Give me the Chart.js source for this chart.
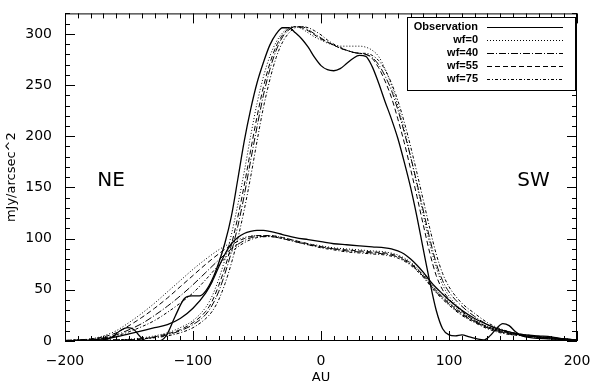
<!DOCTYPE html>
<html>
<head>
<meta charset="utf-8">
<script src="https://cdn.jsdelivr.net/npm/chart.js@4.4.0/dist/chart.umd.min.js"></script>
<style>
  body { margin: 0; background: #fff; }
</style>
</head>
<body>
<canvas id="profile" width="600" height="385"></canvas>
<script>
// tick labels
const xTicks = [-200, -100, 0, 100, 200];
const yTicks = [0, 50, 100, 150, 200, 250, 300];

const legendNames = ["Observation", "wf=0", "wf=40", "wf=55", "wf=75"];

// bright (tall) profile, [AU, mJy/arcsec^2]
const obsTall = [[-200,0],[-180,0],[-170,1],[-163,4],[-157,10],[-151,13],[-146,11],[-141,4],[-136,0],[-127,0],
  [-121,5],[-114,24],[-107,41],[-101,44],[-95,44],[-90,49],[-85,60],[-80,76],[-75,96],[-70,122],[-65,158],
  [-60,195],[-55,226],[-50,252],[-45,272],[-40,289],[-35,300],[-30,306],[-25,306],[-20,301],[-15,295],
  [-10,287],[-5,277],[0,269],[5,265],[10,264],[15,266],[20,271],[25,276],[30,279],[35,278],[40,268],
  [45,252],[50,234],[55,217],[60,198],[65,175],[70,150],[75,121],[80,89],[85,58],[90,30],[95,12],[100,6],
  [105,5],[110,6],[116,4],[122,2],[127,1],[132,5],[137,12],[142,17],[147,15],[152,9],[157,5],[165,3],
  [180,2],[200,0]];
const wf0Tall = [[-200,0],[-180,0.5],[-160,1],[-140,3],[-120,8],[-110,13],[-100,20],[-90,33],[-85,44],[-80,60],
  [-75,80],[-70,104],[-65,133],[-60,165],[-55,200],[-50,232],[-45,258],[-40,278],[-35,292],[-30,301],
  [-25,306],[-20,307],[-15,305],[-10,301],[-5,297],[0,294],[5,291],[10,289],[15,288],[20,288],[25,288],
  [30,288],[35,287],[40,284],[45,278],[50,266],[55,250],[60,230],[65,207],[70,180],[75,152],[80,123],
  [85,95],[90,72],[95,55],[100,44],[110,30],[120,21],[130,14],[140,10],[150,7],[160,5],[180,2],[200,1]];
const wf40Tall = [[-200,0],[-180,0.5],[-160,1],[-140,2],[-120,6],[-110,10],[-100,16],[-90,26],[-85,35],[-80,48],
  [-75,66],[-70,87],[-65,112],[-60,142],[-55,176],[-50,209],[-45,240],[-40,265],[-35,284],[-30,297],
  [-25,304],[-20,307],[-15,307],[-10,304],[-5,300],[0,296],[5,292],[10,289],[15,286],[20,284],[25,282],
  [30,281],[35,280],[40,277],[45,270],[50,259],[55,245],[60,226],[65,204],[70,180],[75,154],[80,127],
  [85,100],[90,76],[95,59],[100,48],[110,34],[120,24],[130,16],[140,11],[150,8],[160,5],[180,3],[200,1]];
const wf55Tall = [[-200,0],[-180,0.5],[-160,1],[-140,2],[-120,7],[-110,11],[-100,18],[-90,29],[-85,39],[-80,54],
  [-75,72],[-70,94],[-65,121],[-60,152],[-55,186],[-50,219],[-45,248],[-40,271],[-35,288],[-30,299],
  [-25,305],[-20,307],[-15,306],[-10,303],[-5,299],[0,295],[5,292],[10,289],[15,286],[20,284],[25,282],
  [30,281],[35,280],[40,276],[45,267],[50,254],[55,238],[60,217],[65,194],[70,168],[75,141],[80,113],
  [85,86],[90,64],[95,50],[100,41],[110,29],[120,20],[130,14],[140,10],[150,7],[160,5],[180,2],[200,1]];
const wf75Tall = [[-200,0],[-180,0.5],[-160,1],[-140,2],[-120,5],[-110,8],[-100,13],[-90,22],[-85,29],[-80,40],
  [-75,56],[-70,76],[-65,100],[-60,128],[-55,160],[-50,195],[-45,228],[-40,255],[-35,277],[-30,292],
  [-25,301],[-20,306],[-15,307],[-10,306],[-5,303],[0,299],[5,294],[10,290],[15,287],[20,284],[25,282],
  [30,281],[35,281],[40,279],[45,274],[50,265],[55,252],[60,235],[65,214],[70,190],[75,164],[80,137],
  [85,110],[90,85],[95,66],[100,53],[110,37],[120,27],[130,18],[140,12],[150,8],[160,6],[180,3],[200,1]];

// faint (low) profile
const obsLow = [[-200,0],[-180,1],[-170,2],[-160,4],[-150,7],[-140,10],[-130,13],[-120,16],[-110,22],[-100,32],
  [-90,47],[-85,58],[-80,72],[-75,85],[-70,95],[-65,101],[-60,105],[-55,107],[-50,108],[-45,108],[-40,107],
  [-30,104],[-20,101],[-10,99],[0,97],[10,95],[20,94],[30,93],[40,92],[50,91],[55,90],[60,88],[65,85],
  [70,80],[75,74],[80,67],[85,59],[90,52],[95,46],[100,40],[110,30],[120,22],[130,16],[140,11],[150,8],
  [160,6],[170,5],[180,4],[190,2],[200,1]];
const wf0Low = [[-200,0.5],[-190,1],[-180,2],[-170,5],[-160,10],[-150,18],[-140,27],[-130,37],[-120,48],[-110,59],
  [-100,70],[-90,80],[-80,89],[-70,96],[-60,101],[-50,103],[-40,103],[-30,101],[-20,98],[-10,95],[0,93],
  [10,91],[20,90],[30,89],[40,88],[50,87],[60,84],[70,77],[80,65],[90,50],[100,38],[110,28],[120,20],
  [130,14],[140,10],[150,7],[160,5],[170,4],[180,3],[190,2],[200,1]];
const wf40Low = [[-200,0.5],[-190,1],[-180,1.5],[-170,3],[-160,6],[-150,11],[-140,17],[-130,25],[-120,34],[-110,44],
  [-100,55],[-90,67],[-80,79],[-70,90],[-60,98],[-50,102],[-40,102],[-30,100],[-20,97],[-10,94],[0,92],
  [10,90],[20,88],[30,87],[40,86],[50,85],[60,82],[70,75],[80,63],[90,48],[100,36],[110,26],[120,19],
  [130,13],[140,9],[150,6],[160,5],[170,4],[180,3],[190,2],[200,1]];
const wf55Low = [[-200,0.5],[-190,1],[-180,2],[-170,4],[-160,8],[-150,15],[-140,23],[-130,32],[-120,42],[-110,53],
  [-100,64],[-90,75],[-80,85],[-70,94],[-60,100],[-50,103],[-40,103],[-30,101],[-20,98],[-10,95],[0,92],
  [10,90],[20,89],[30,88],[40,87],[50,86],[60,83],[70,76],[80,64],[90,49],[100,37],[110,27],[120,19],
  [130,13],[140,9],[150,7],[160,5],[170,4],[180,3],[190,2],[200,1]];
const wf75Low = [[-200,0.5],[-190,1],[-180,1.5],[-170,2.5],[-160,5],[-150,9],[-140,14],[-130,20],[-120,28],[-110,37],
  [-100,47],[-90,60],[-80,74],[-70,87],[-60,96],[-50,101],[-40,102],[-30,100],[-20,97],[-10,94],[0,91],
  [10,89],[20,87],[30,86],[40,85],[50,84],[60,81],[70,74],[80,62],[90,47],[100,35],[110,25],[120,18],
  [130,12],[140,8],[150,6],[160,5],[170,4],[180,3],[190,2],[200,1]];

// line styles, same order as legendNames
const dashes = [[], [1, 2], [7, 2, 1, 2], [5, 3], [3, 2, 1, 2]];

const seriesSets = [
  [obsTall, wf0Tall, wf40Tall, wf55Tall, wf75Tall],
  [obsLow, wf0Low, wf40Low, wf55Low, wf75Low],
];

Chart.defaults.font.family = "'DejaVu Sans'";

const datasets = [];
seriesSets.forEach((set) => {
  set.forEach((pts, i) => {
    datasets.push({
      label: legendNames[i],
      data: pts.map((p) => ({ x: p[0], y: p[1] })),
      borderColor: "#000",
      borderWidth: i === 0 ? 1.3 : 1,
      borderDash: dashes[i],
      pointRadius: 0,
      fill: false,
      cubicInterpolationMode: "monotone",
    });
  });
});

const frame = {
  id: "frame",
  afterDraw(chart) {
    const { ctx, chartArea: a, scales: { x, y } } = chart;
    ctx.save();
    ctx.strokeStyle = "#000";
    ctx.lineWidth = 1;
    ctx.setLineDash([]);
    ctx.strokeRect(a.left + 0.5, a.top + 0.5, a.right - a.left - 1, a.bottom - a.top - 1);
    ctx.beginPath();
    // inward ticks, bottom and top
    for (let v = x.min; v <= x.max; v += 10) {
      const px = Math.round(x.getPixelForValue(v)) + 0.5;
      const len = v % 100 === 0 ? 10 : 5;
      ctx.moveTo(px, a.bottom);
      ctx.lineTo(px, a.bottom - len);
      ctx.moveTo(px, a.top);
      ctx.lineTo(px, a.top + len);
    }
    // left and right
    for (let v = y.min; v <= y.max; v += 10) {
      const py = Math.round(y.getPixelForValue(v)) + 0.5;
      const len = v % 50 === 0 ? 10 : 5;
      ctx.moveTo(a.left, py);
      ctx.lineTo(a.left + len, py);
      ctx.moveTo(a.right, py);
      ctx.lineTo(a.right - len, py);
    }
    ctx.stroke();

    // side labels
    ctx.fillStyle = "#000";
    ctx.font = "20px 'DejaVu Sans'";
    ctx.textAlign = "center";
    ctx.textBaseline = "middle";
    ctx.fillText("NE", x.getPixelForValue(-164), y.getPixelForValue(156));
    ctx.fillText("SW", x.getPixelForValue(166), y.getPixelForValue(156));

    // legend box
    const bx = 407, by = 17, bw = 168, bh = 73;
    ctx.fillStyle = "#fff";
    ctx.fillRect(bx, by, bw, bh);
    ctx.strokeRect(bx + 0.5, by + 0.5, bw, bh);
    ctx.font = "bold 11px 'Liberation Sans'";
    ctx.textAlign = "right";
    legendNames.forEach((name, i) => {
      const ry = by + 10 + i * 13;
      ctx.fillStyle = "#000";
      ctx.fillText(name, 478, ry);
      ctx.beginPath();
      ctx.setLineDash(dashes[i]);
      ctx.moveTo(487, ry + 0.5);
      ctx.lineTo(563, ry + 0.5);
      ctx.stroke();
    });
    ctx.restore();
  },
};

new Chart(document.getElementById("profile"), {
  type: "line",
  data: { datasets },
  plugins: [frame],
  options: {
    responsive: false,
    animation: false,
    devicePixelRatio: 1,
    layout: { padding: { top: 4, right: 23, left: 0, bottom: 0 } },
    plugins: { legend: { display: false }, tooltip: { enabled: false } },
    scales: {
      x: {
        type: "linear",
        min: -200,
        max: 200,
        afterBuildTicks: (s) => { s.ticks = xTicks.map((v) => ({ value: v })); },
        afterFit: (s) => { s.height = 44; },
        grid: { display: false },
        border: { display: false },
        ticks: {
          color: "#000",
          font: { size: 14 },
          padding: 4,
          maxRotation: 0,
          callback: (v) => (v < 0 ? "\u2212" + Math.abs(v) : String(v)),
        },
        title: { display: true, text: "AU", color: "#000", font: { size: 13 }, padding: { top: 3, bottom: 0 } },
      },
      y: {
        min: 0,
        max: 320,
        afterBuildTicks: (s) => { s.ticks = yTicks.map((v) => ({ value: v })); },
        afterFit: (s) => { s.width = 65; },
        grid: { display: false },
        border: { display: false },
        ticks: { color: "#000", font: { size: 14 }, padding: 5 },
        title: { display: true, text: "mJy/arcsec^2", color: "#000", font: { size: 13 }, padding: { top: 4, bottom: 0 } },
      },
    },
  },
});
</script>
</body>
</html>
